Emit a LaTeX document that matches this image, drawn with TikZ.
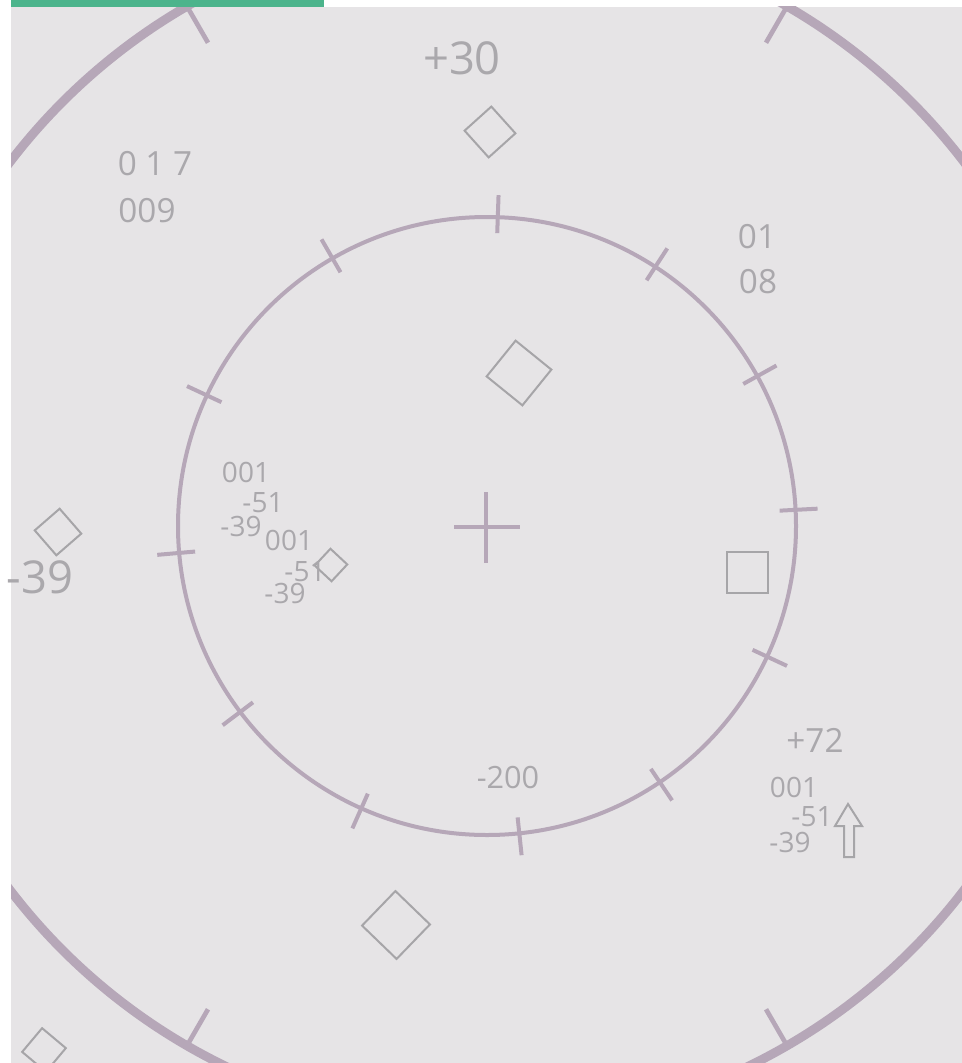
\documentclass[tikz,border=0pt]{standalone}
\usepackage{fontspec}
\setmainfont{Open Sans}
\usetikzlibrary{positioning}
\definecolor{scopebg}{RGB}{230,228,230}
\definecolor{ringcol}{RGB}{182,167,184}
\definecolor{labelgray}{RGB}{170,168,172}
\definecolor{blipgray}{RGB}{166,165,168}
\definecolor{topbar}{RGB}{76,180,140}
\tikzset{
	ring/.style={draw=ringcol, line cap=butt}
}
\tikzset{
	blip/.style={draw=blipgray, line width=1.5pt, inner sep=0pt, shape=rectangle}
}
\tikzset{
	bigread/.style={font=\fontsize{34}{34}\selectfont, text=labelgray, inner sep=0pt},
	midread/.style={font=\fontsize{25}{25}\selectfont, text=labelgray, inner sep=0pt},
	lowread/.style={font=\fontsize{23}{23}\selectfont, text=labelgray, inner sep=0pt},
	smallread/.style={font=\fontsize{21}{21}\selectfont, text=labelgray, inner sep=0pt}
}

\begin{document}
\begin{tikzpicture}[x=0.75pt, y=-0.75pt, >=stealth]
      \useasboundingbox (0,0) rectangle (962,1063);
      \fill[white] (0,0) rectangle (962,1063);
      \fill[scopebg] (11,7) rectangle (962,1063);
      \coordinate (ctr) at (487,526);

      % range rings with their ticks, cut to the screen
      \begin{scope}
        \clip (11,7) rectangle (962,1063);
        \begin{scope}[shift={(ctr)}, y=0.75pt]
          \draw[ring, line width=6.75pt] (0,0) circle (600);
          \foreach \a in {60,120,240,300}
            \draw[ring, line width=3.5pt] (\a:601) -- (\a:558);
          \draw[ring, line width=3pt] (0,0) circle (309);
          \foreach \a in {3,29,57,88,120,155,185,217,246,276,304,335}
            \draw[ring, line width=3pt] (\a:293) -- (\a:331);
          % centre cross
          \draw[ring, line width=3.5pt] (-1,34) -- (-1,-37);
          \draw[ring, line width=3.5pt] (-33,-1) -- (33,-1);
        \end{scope}
      \end{scope}
      \fill[topbar] (11,0) rectangle (324,7);

      % contacts
      \node[blip, minimum size=27pt, rotate=42] (dtop) at (490,132) {};
      \node[blip, minimum size=34.5pt, rotate=51] (dmid) at (519,373) {};
      \node[blip, minimum size=24.75pt, rotate=41] (dleft) at (58,532) {};
      \node[blip, minimum size=17.25pt, rotate=47] (dsmall) at (331,565) {};
      \node[blip, minimum size=36pt, rotate=46] (dlow) at (396,925) {};
      \node[blip, minimum size=23.25pt, rotate=50] (dcorner) at (44,1050) {};
      \node[blip, minimum size=30.75pt] (sqr) at (747.5,572.5) {};
      \draw[blipgray, line width=1.5pt, line join=miter]
        (848,804) -- (862,826) -- (854,826) -- (854,857) -- (844,857)
        -- (844,826) -- (835,826) -- cycle;

      % readouts
      \node[bigread] (alt30) at (462,58) {+30};
      \node[midread] (nwa) at (155,164) {0 1 7};
      \node[midread] (nwb) at (147,211) {009};
      \node[midread] (nea) at (757,237) {01};
      \node[midread] (neb) at (758,282) {08};
      \node[smallread] (wa) at (246,472) {001};
      \node[smallread] (wb) at (263,503) {-51};
      \node[smallread] (wc) at (241,526) {-39};
      \node[smallread] (wd) at (289,540) {001};
      \node[smallread] (we) at (305,572) {-51};
      \node[smallread] (wf) at (285,593) {-39};
      \node[bigread] (lft) at (40,577) {-39};
      \node[midread] (alt72) at (815,740) {+72};
      \node[smallread] (sea) at (794,787) {001};
      \node[smallread] (seb) at (812,817) {-51};
      \node[smallread] (sec) at (790,842) {-39};
      \node[lowread] (alt200) at (508,778) {-200};
    \end{tikzpicture}
\end{document}
